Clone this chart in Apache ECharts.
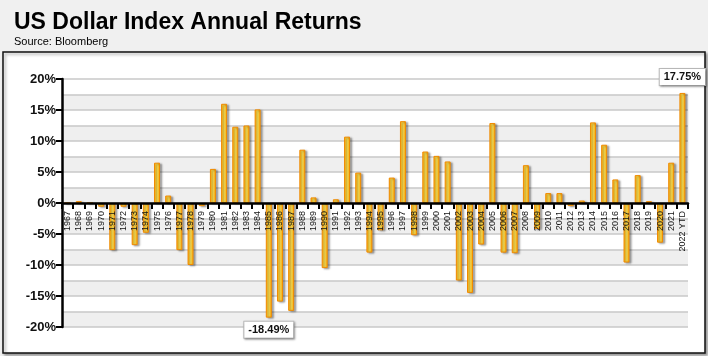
<!DOCTYPE html>
<html>
<head>
<meta charset="utf-8">
<script src="https://cdn.jsdelivr.net/npm/echarts@6/dist/echarts.min.js"></script>
<style>html,body{margin:0;padding:0;background:#f0f0f0;}#c{width:708px;height:356px;}</style>
</head>
<body>
<div id="c"></div>
<script>
var years = ['1967','1968','1969','1970','1971','1972','1973','1974','1975','1976','1977','1978','1979','1980','1981','1982','1983','1984','1985','1986','1987','1988','1989','1990','1991','1992','1993','1994','1995','1996','1997','1998','1999','2000','2001','2002','2003','2004','2005','2006','2007','2008','2009','2010','2011','2012','2013','2014','2015','2016','2017','2018','2019','2020','2021','2022 YTD'];
var returns = [0, 0.3, 0, -0.6, -7.6, -0.6, -6.8, -4.8, 6.5, 1.2, -7.6, -10.0, -0.5, 5.5, 16.0, 12.3, 12.5, 15.1, -18.49, -15.9, -17.4, 8.6, 0.9, -10.5, 0.6, 10.7, 4.9, -8.0, -4.4, 4.1, 13.2, -5.2, 8.3, 7.6, 6.7, -12.5, -14.5, -6.7, 12.9, -8.0, -8.1, 6.1, -4.2, 1.6, 1.6, -0.5, 0.4, 13.0, 9.4, 3.8, -9.6, 4.5, 0.3, -6.4, 6.5, 17.75];
var yTicks = [-20, -15, -10, -5, 0, 5, 10, 15, 20];
var titleText = 'US Dollar Index Annual Returns';
var sourceText = 'Source: Bloomberg';

var gridTop = 79, gridBottom = 29, chartH = 356;
var yMin = yTicks[0], yMax = yTicks[yTicks.length - 1];
// shift the category axis up to the zero line of the value scale
var plotH = chartH - gridTop - gridBottom;
var zeroOffset = -plotH * (0 - yMin) / (yMax - yMin);

var maxV = Math.max.apply(null, returns), minV = Math.min.apply(null, returns);
var labelBox = {
  show: true, formatter: function(p){ return p.value.toFixed(2) + '%'; },
  fontFamily: 'Liberation Sans, Arial, sans-serif', fontWeight: 'bold', fontSize: 11, color: '#111',
  backgroundColor: '#fff', borderColor: '#bbb', borderWidth: 1, padding: [3, 4, 2, 4],
  shadowColor: 'rgba(0,0,0,0.3)', shadowBlur: 2, shadowOffsetX: 1, shadowOffsetY: 1
};
var data = returns.map(function(v){
  if (v === maxV) return {value: v, label: Object.assign({}, labelBox, {position: 'top', distance: 8})};
  if (v === minV) return {value: v, label: Object.assign({}, labelBox, {position: 'bottom', distance: 4})};
  return v;
});

var chart = echarts.init(document.getElementById('c'), null, {renderer: 'canvas'});
chart.setOption({
  backgroundColor: '#f0f0f0',
  animation: false,
  graphic: [{
    type: 'rect', z: -10, silent: true,
    shape: {x: 3, y: 52, width: 702, height: 301},
    style: {fill: '#fff', stroke: '#111', lineWidth: 1.5, shadowColor: 'rgba(0,0,0,0.35)', shadowBlur: 3, shadowOffsetX: 2, shadowOffsetY: 2}
  }],
  title: [
    {text: titleText, left: 14, top: 11, padding: 0, textStyle: {fontFamily: 'Liberation Sans, Arial, sans-serif', fontWeight: 'bold', fontSize: 23, color: '#000'}},
    {text: sourceText, left: 14, top: 36, padding: 0, textStyle: {fontFamily: 'Liberation Sans, Arial, sans-serif', fontWeight: 'normal', fontSize: 11, color: '#000'}}
  ],
  grid: {left: 62, right: 20, top: gridTop, bottom: gridBottom, containLabel: false, outerBoundsMode: 'none'},
  xAxis: {
    type: 'category', data: years, z: 5, position: 'bottom', offset: zeroOffset,
    axisLine: {onZero: false, lineStyle: {color: '#000', width: 2.5}},
    axisTick: {show: true, length: 6, lineStyle: {color: '#000', width: 2}, interval: 0},
    axisLabel: {interval: 0, rotate: 90, margin: 8, hideOverlap: false, fontFamily: 'Liberation Sans, Arial, sans-serif', fontSize: 9, color: '#111'}
  },
  yAxis: [{
    type: 'value', min: yMin, max: yMax, interval: 5, z: 5,
    axisLine: {show: true, lineStyle: {color: '#000', width: 2.5}},
    axisTick: {show: true, length: 6, lineStyle: {color: '#000', width: 2}},
    axisLabel: {margin: 6, formatter: '{value}%', fontFamily: 'Liberation Sans, Arial, sans-serif', fontWeight: 'bold', fontSize: 13, color: '#111'},
    splitLine: {show: false}
  }, {
    type: 'value', min: yMin, max: yMax, interval: 2.5, position: 'left',
    axisLine: {show: false}, axisTick: {show: false}, axisLabel: {show: false},
    splitLine: {show: true, lineStyle: {color: '#c8c8c8', width: 1.5}},
    splitArea: {show: true, areaStyle: {color: ['#efefef', '#ffffff']}}
  }],
  series: [{
    type: 'bar', data: data, barWidth: 6, yAxisIndex: 0,
    itemStyle: {
      color: new echarts.graphic.LinearGradient(0, 0, 1, 0, [
        {offset: 0, color: '#f5a300'}, {offset: 0.5, color: '#ffe45a'}, {offset: 1, color: '#f5a300'}
      ]),
      borderColor: '#f08a00', borderWidth: 1,
      shadowColor: 'rgba(0,0,0,0.35)', shadowBlur: 2, shadowOffsetX: 2, shadowOffsetY: 1
    }
  }]
});
</script>
</body>
</html>
